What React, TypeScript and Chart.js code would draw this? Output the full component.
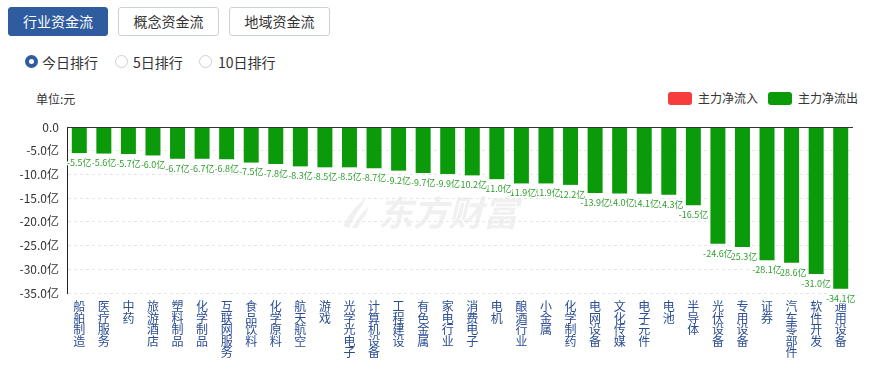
import React, { useEffect, useRef } from "react";
import { Chart, registerables } from "chart.js";

Chart.register(...registerables);

const FONT = '"Microsoft YaHei", "Noto Sans CJK SC", "Noto Sans", sans-serif';

const categories = [
  "船舶制造", "医疗服务", "中药", "旅游酒店", "塑料制品", "化学制品", "互联网服务", "食品饮料",
  "化学原料", "航天航空", "游戏", "光学光电子", "计算机设备", "工程建设", "有色金属", "家电行业",
  "消费电子", "电机", "酿酒行业", "小金属", "化学制药", "电网设备", "文化传媒", "电子元件",
  "电池", "半导体", "光伏设备", "专用设备", "证券", "汽车零部件", "软件开发", "通用设备",
];

const netOutflow = [
  -5.5, -5.6, -5.7, -6.0, -6.7, -6.7, -6.8, -7.5,
  -7.8, -8.3, -8.5, -8.5, -8.7, -9.2, -9.7, -9.9,
  -10.2, -11.0, -11.9, -11.9, -12.2, -13.9, -14.0, -14.1,
  -14.3, -16.5, -24.6, -25.3, -28.1, -28.6, -31.0, -34.1,
];

const yMin = -35;
const yMax = 0;
const yStep = 5;

const tabs = ["行业资金流", "概念资金流", "地域资金流"];
const ranks = ["今日排行", "5日排行", "10日排行"];
const legendItems = ["主力净流入", "主力净流出"];
const unitLabel = "单位:元";
const watermark = "东方财富";

const BLUE = "#2f5b9f";
const BAR_GREEN = "#0a9a0a";
const LABEL_GREEN = "#2f9f2f";
const RED = "#f63c3c";

const zeroLinePlugin = {
  id: "zeroLine",
  afterDatasetsDraw(chart: any) {
    const { ctx, chartArea, scales } = chart;
    const y = Math.round(scales.y.getPixelForValue(0)) + 0.5;
    ctx.save();
    ctx.strokeStyle = "#333";
    ctx.lineWidth = 1;
    ctx.beginPath();
    ctx.moveTo(chartArea.left, y);
    ctx.lineTo(chartArea.right, y);
    ctx.stroke();
    ctx.restore();
  },
};

const watermarkPlugin = {
  id: "watermark",
  beforeDraw(chart: any) {
    const { ctx } = chart;
    ctx.save();
    ctx.fillStyle = "#f0f0f0";
    // logo swoosh
    ctx.beginPath();
    ctx.moveTo(343, 116);
    ctx.quadraticCurveTo(352, 98, 366, 88);
    ctx.lineTo(362, 96);
    ctx.quadraticCurveTo(354, 106, 349, 118);
    ctx.closePath();
    ctx.fill();
    ctx.beginPath();
    ctx.moveTo(352, 118);
    ctx.quadraticCurveTo(360, 104, 369, 96);
    ctx.lineTo(366, 104);
    ctx.quadraticCurveTo(361, 110, 357, 118);
    ctx.closePath();
    ctx.fill();
    ctx.font = `italic bold 35px ${FONT}`;
    ctx.textBaseline = "alphabetic";
    ctx.textAlign = "left";
    ctx.fillText(watermark, 378, 116);
    ctx.restore();
  },
};

const valueLabelPlugin = {
  id: "valueLabels",
  afterDatasetsDraw(chart: any) {
    const { ctx } = chart;
    const meta = chart.getDatasetMeta(0);
    const data = chart.data.datasets[0].data as number[];
    ctx.save();
    ctx.font = `9px ${FONT}`;
    ctx.textAlign = "center";
    ctx.textBaseline = "top";
    ctx.lineJoin = "round";
    for (let i = meta.data.length - 1; i >= 0; i--) {
      const bar = meta.data[i];
      const text = `${data[i].toFixed(1)}亿`;
      const x = bar.x;
      const y = bar.y + 5;
      ctx.strokeStyle = "#fff";
      ctx.lineWidth = 3;
      ctx.strokeText(text, x, y);
      ctx.fillStyle = LABEL_GREEN;
      ctx.fillText(text, x, y);
    }
    ctx.restore();
  },
};

export default function App() {
  const ref = useRef<HTMLCanvasElement>(null);

  useEffect(() => {
    if (!ref.current) return;
    const chart = new Chart(ref.current, {
      type: "bar",
      data: {
        labels: categories.map((c) => c.split("")),
        datasets: [
          {
            label: legendItems[1],
            data: netOutflow,
            backgroundColor: BAR_GREEN,
            borderWidth: 0,
            barPercentage: 0.61,
            categoryPercentage: 1,
          },
        ],
      },
      options: {
        animation: false,
        responsive: false,
        layout: { padding: { top: 17, left: 0, right: 19, bottom: 0 } },
        plugins: {
          legend: { display: false },
          tooltip: { enabled: false },
        },
        scales: {
          x: {
            grid: { display: false, drawTicks: false },
            border: { display: false },
            ticks: {
              autoSkip: false,
              maxRotation: 0,
              minRotation: 0,
              padding: 8,
              color: "#2b4d94",
              font: { family: FONT, size: 12, lineHeight: 0.96 },
            },
            afterFit(scale: any) {
              scale.height = 76;
            },
          },
          y: {
            min: yMin,
            max: yMax,
            grid: { color: "#e6e6e6", drawTicks: false, lineWidth: 1 },
            border: { display: true, color: "#222", width: 1, dash: [3, 3] },
            ticks: {
              stepSize: yStep,
              padding: 8,
              color: "#333",
              font: { family: FONT, size: 12 },
              callback: (v: any) => (Number(v) === 0 ? "0.0" : `${Number(v).toFixed(1)}亿`),
            },
            afterFit(scale: any) {
              scale.width = 67;
            },
          },
        },
      },
      plugins: [watermarkPlugin, zeroLinePlugin, valueLabelPlugin],
    });
    return () => chart.destroy();
  }, []);

  const tabLefts = [8, 118, 229];
  const tabWidths = [100, 101, 101];
  const radioLefts = [25, 115, 199];
  const radioTextLefts = [42, 133, 218];

  return (
    <div
      style={{
        position: "fixed",
        left: 0,
        top: 0,
        width: 872,
        height: 369,
        overflow: "hidden",
        background: "#fff",
        fontFamily: FONT,
        color: "#333",
      }}
    >
      {tabs.map((t, i) => (
        <div
          key={t}
          style={{
            position: "absolute",
            left: tabLefts[i],
            top: 7,
            width: tabWidths[i],
            height: 29,
            boxSizing: "border-box",
            borderRadius: 3,
            border: i === 0 ? `1px solid ${BLUE}` : "1px solid #c9d2de",
            background: i === 0 ? BLUE : "#fff",
            color: i === 0 ? "#fff" : "#333",
            fontSize: 14,
            lineHeight: "27px",
            textAlign: "center",
          }}
        >
          {t}
        </div>
      ))}
      {ranks.map((r, i) => (
        <React.Fragment key={r}>
          <div
            style={{
              position: "absolute",
              left: radioLefts[i],
              top: 55,
              width: 13,
              height: 13,
              boxSizing: "border-box",
              borderRadius: "50%",
              border: i === 0 ? `4px solid ${BLUE}` : "1px solid #cfcfcf",
              background: "#fff",
            }}
          />
          <div
            style={{
              position: "absolute",
              left: radioTextLefts[i],
              top: 52,
              height: 20,
              fontSize: 14,
              lineHeight: "20px",
              whiteSpace: "nowrap",
            }}
          >
            {r}
          </div>
        </React.Fragment>
      ))}
      <div
        style={{
          position: "absolute",
          left: 36,
          top: 90,
          fontSize: 12,
          lineHeight: "18px",
          whiteSpace: "nowrap",
        }}
      >
        {unitLabel}
      </div>
      {legendItems.map((l, i) => (
        <React.Fragment key={l}>
          <div
            style={{
              position: "absolute",
              left: i === 0 ? 668 : 768,
              top: 92,
              width: 24,
              height: 13,
              borderRadius: 3,
              background: i === 0 ? RED : BAR_GREEN,
            }}
          />
          <div
            style={{
              position: "absolute",
              left: i === 0 ? 698 : 798,
              top: 89,
              fontSize: 12,
              lineHeight: "18px",
              whiteSpace: "nowrap",
            }}
          >
            {l}
          </div>
        </React.Fragment>
      ))}
      <canvas
        ref={ref}
        width={872}
        height={259}
        style={{ position: "absolute", left: 0, top: 110, width: 872, height: 259 }}
      />
    </div>
  );
}
